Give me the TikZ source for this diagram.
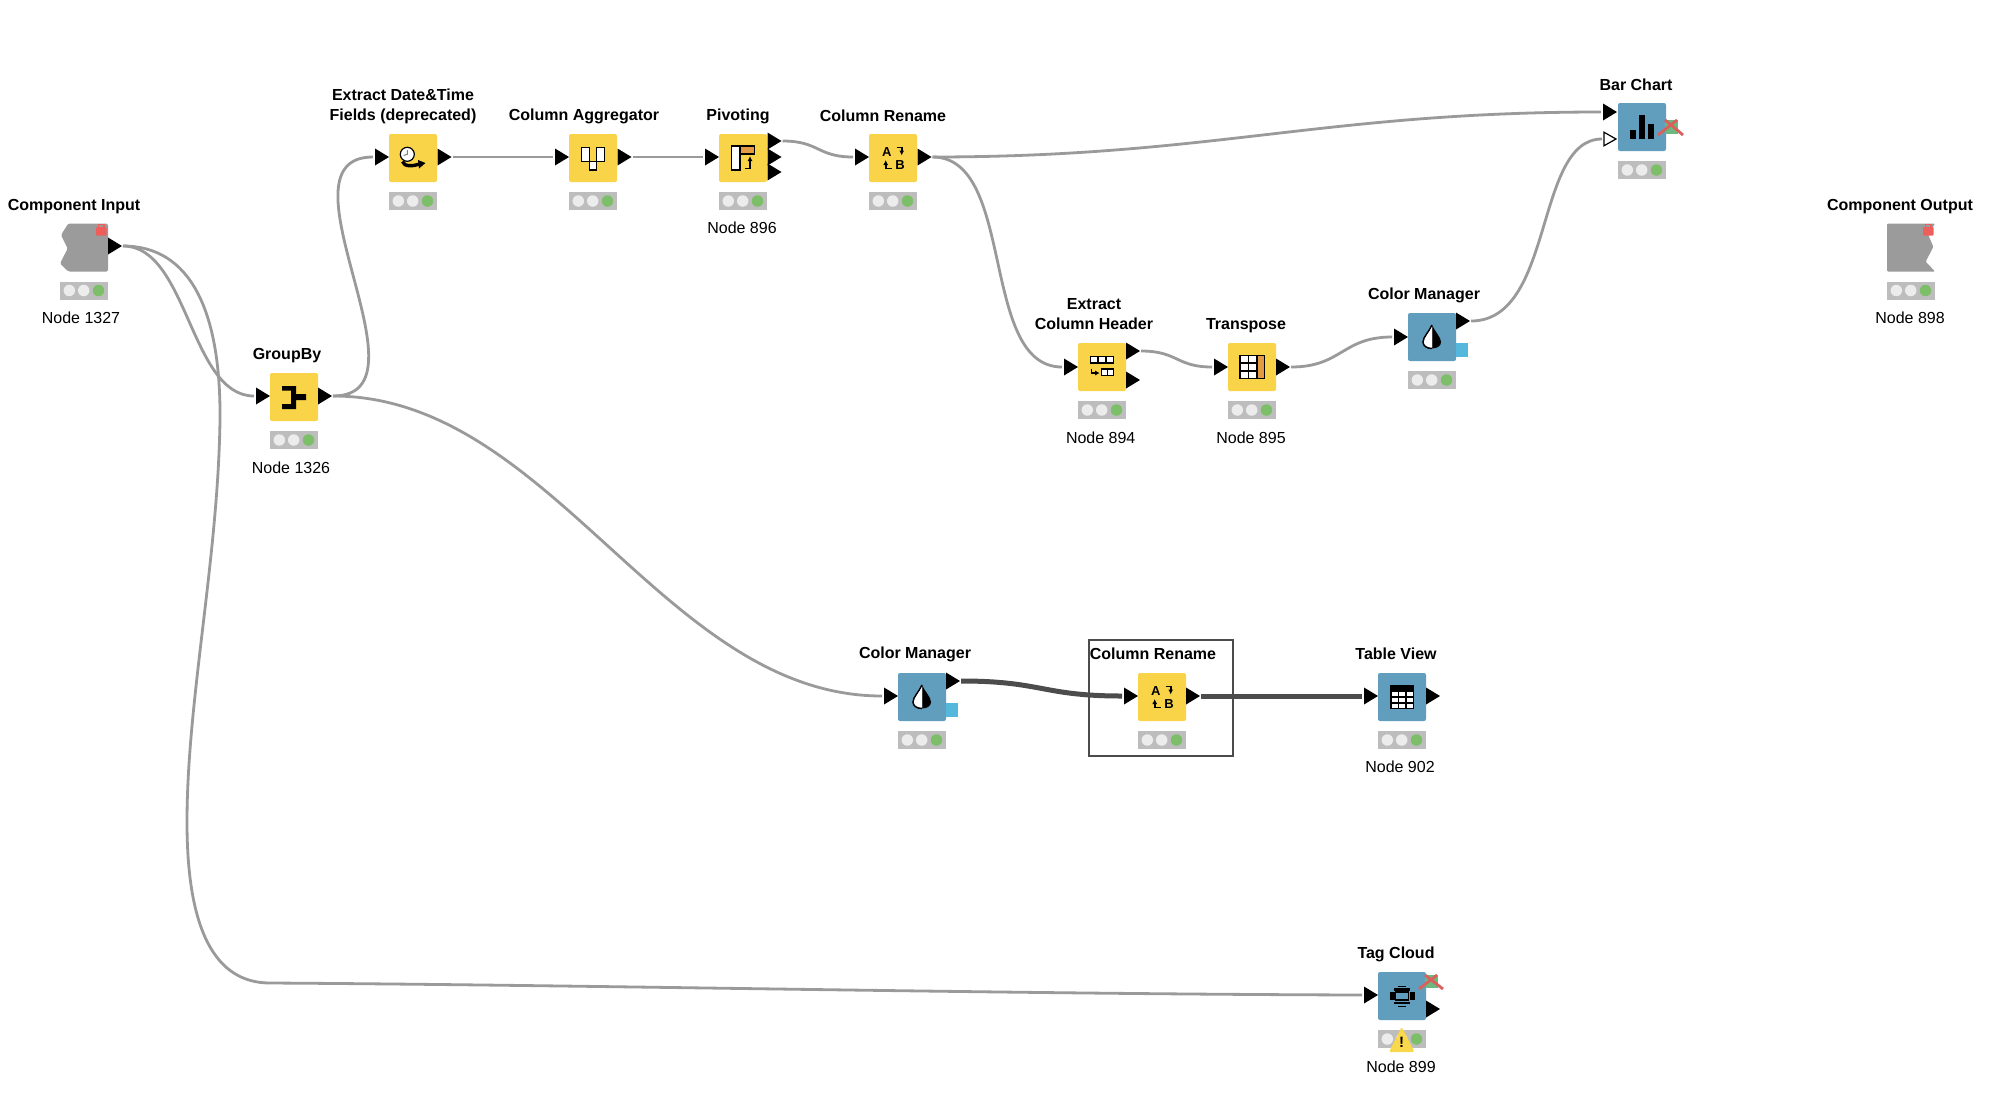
\documentclass[tikz,border=0pt]{standalone}
\usepackage{fontspec}
\setmainfont{Liberation Sans}
\usetikzlibrary{shapes.geometric,arrows.meta}
\definecolor{kyellow}{HTML}{F9D348}
\definecolor{kblue}{HTML}{619EBD}
\definecolor{kgray}{HTML}{9B9B9B}
\definecolor{kwire}{HTML}{9A9A9A}
\definecolor{kdark}{HTML}{4C4C4C}
\definecolor{ktl}{HTML}{BDBDBD}
\definecolor{kdot}{HTML}{ECECEC}
\definecolor{kgreen}{HTML}{7CBF68}
\definecolor{kred}{HTML}{EE5F5B}
\definecolor{kxred}{HTML}{D9605B}
\definecolor{kxgreen}{HTML}{6CB87E}
\definecolor{korange}{HTML}{E39A45}
\definecolor{ksky}{HTML}{55B7DC}
\definecolor{kwarn}{HTML}{F9D84B}
\tikzset{
  kbox/.style={rectangle,rounded corners=2pt,minimum width=48pt,minimum height=48pt,inner sep=0pt,outer sep=0pt,anchor=north west},
  tlight/.style={rectangle,fill=ktl,minimum width=48pt,minimum height=18pt,inner sep=0pt,outer sep=0pt,anchor=north west},
  tdot/.style={circle,minimum size=11.5pt,inner sep=0pt,outer sep=0pt,fill=kdot},
  tdotg/.style={tdot,fill=kgreen},
  porttri/.style={isosceles triangle,isosceles triangle stretches,shape border rotate=0,minimum height=14pt,minimum width=17pt,inner sep=0pt,outer sep=0pt,fill=black,anchor=west},
  portopen/.style={porttri,fill=white,draw=black,line width=1.2pt,minimum height=12pt,minimum width=13.5pt},
  ttl/.style={font=\fontsize{16}{20}\selectfont\bfseries,align=center,inner sep=0pt,text=black},
  sub/.style={font=\fontsize{16}{20}\selectfont,align=center,inner sep=0pt,text=black},
  wire/.style={draw=kwire,line width=2.8pt,shorten <=1pt,shorten >=2pt},
  darkwire/.style={draw=kdark,line width=5pt,shorten <=1pt,shorten >=2pt},
  icon/.style={draw=black,line width=1.5pt,fill=white},
  iconarrow/.style={draw=black,line width=1.6pt,-{Latex[length=5pt,width=5pt]}},
  iconletter/.style={font=\fontsize{13}{13}\selectfont\bfseries,inner sep=0pt,text=black},
}
\newcommand{\knode}[4]{%
  \node[kbox,fill=#4] (#1) at (#2,#3) {};
  \node[tlight] (#1-t) at (#2,#3+58) {};
  \node[tdot] (#1-a) at (#2+9.3,#3+67) {};
  \node[tdot] (#1-b) at (#2+23.7,#3+67) {};
  \node[tdotg] (#1-c) at (#2+38.5,#3+67) {};
}
\newcommand{\pin}[3]{\node[porttri] (#1) at (#2,#3) {};}
\newcommand{\pio}[3]{\node[portopen] (#1) at (#2,#3) {};}
\newcommand{\lockicon}[2]{%
  \fill[kred,rounded corners=1pt] (#1,#2+3) rectangle (#1+10.5,#2+11.5);
  \draw[kred,line width=1.2pt] (#1+2.5,#2+3) -- (#1+2.5,#2+0.8) -- (#1+8,#2+0.8) -- (#1+8,#2+3);
}
\newcommand{\crossout}[6]{%
  \fill[kxgreen] (#1,#2) rectangle (#3,#4);
  \draw[kxred,line width=2.8pt] (#5,#4+1) -- (#3-1,#2);
  \draw[kxred,line width=2.8pt] (#1,#2) -- (#6,#4+1);
}
\newcommand{\renameicon}[1]{%
  \begin{scope}[shift={(#1.center)}]
    \node[iconletter] (#1-A) at (-6.2,-6) {A};
    \node[iconletter] (#1-B) at (7,7) {B};
    \draw[iconarrow] (3.5,-10.7) -- (8.7,-10.7) -- (8.7,-2.5);
    \draw[iconarrow] (-1,10.5) -- (-7.3,10.5) -- (-7.3,2);
  \end{scope}
}
\newcommand{\dropicon}[1]{%
  \begin{scope}[shift={(#1.center)}]
    \fill[black] (0,-12) .. controls (3,-5) and (9,0) .. (9,5) .. controls (9,9) and (5,11.5) .. (0,11.5) -- cycle;
    \draw[icon] (0,-12) .. controls (-3,-5) and (-9,0) .. (-9,5) .. controls (-9,9) and (-5,11.5) .. (0,11.5);
    \fill[white] (0,-10) .. controls (-2.5,-4) and (-7.5,0) .. (-7.5,5) .. controls (-7.5,8) and (-4,10) .. (0,10) -- cycle;
  \end{scope}
}
\begin{document}
\begin{tikzpicture}[x=1pt,y=-1pt]
\useasboundingbox (0,0) rectangle (1999,1103);
\fill[white] (0,0) rectangle (1999,1103);

% selection frame
\node[rectangle,draw=kdark,line width=1.8pt,minimum width=144pt,minimum height=116pt,inner sep=0pt,outer sep=0pt,anchor=north west] (frame) at (1089,640) {};

% nodes
\knode{ci}{60}{223.5}{white}
\knode{gb}{270}{373}{kyellow}
\knode{ed}{389}{134}{kyellow}
\knode{ca}{569}{134}{kyellow}
\knode{pv}{719}{134}{kyellow}
\knode{cr}{869}{134}{kyellow}
\knode{ech}{1078}{343}{kyellow}
\knode{tr}{1228}{343}{kyellow}
\knode{cm}{1408}{313}{kblue}
\knode{bc}{1618}{103}{kblue}
\knode{co}{1887}{223.5}{white}
\knode{cmb}{898}{673}{kblue}
\knode{crb}{1138}{673}{kyellow}
\knode{tv}{1378}{673}{kblue}
\knode{tc}{1378}{972}{kblue}

% component shapes
\fill[kgray,rounded corners=1.5pt] (68.3,223.5) -- (108,223.5) -- (108,271.5) -- (68.3,271.5) -- (60,263.5) -- (67.7,248.5) -- (61,235) -- cycle;
\lockicon{96}{224}
\fill[kgray,rounded corners=1pt] (1887,223.5) -- (1935,223.5) -- (1928.3,235) -- (1933.3,246.7) -- (1925.7,261.7) -- (1935,271.5) -- (1887,271.5) -- cycle;
\lockicon{1923}{224}

% ports
\pin{ci-o}{108}{246}
\pin{gb-i}{256}{396}
\pin{gb-o}{318}{396}
\pin{ed-i}{375}{157}
\pin{ed-o}{437.5}{157}
\pin{ca-i}{555}{157}
\pin{ca-o}{617.5}{157}
\pin{pv-i}{705}{157}
\pin{pv-oa}{767.5}{141}
\pin{pv-ob}{767.5}{157}
\pin{pv-oc}{767.5}{172}
\pin{cr-i}{855}{157}
\pin{cr-o}{917.5}{157}
\pin{ech-i}{1064}{367}
\pin{ech-oa}{1126}{351}
\pin{ech-ob}{1126}{380}
\pin{tr-i}{1214}{367}
\pin{tr-o}{1276}{367}
\pin{cm-i}{1394}{337}
\pin{cm-o}{1456}{321}
\pin{bc-ia}{1603}{112}
\pio{bc-ib}{1604}{139}
\pin{cmb-i}{884}{696}
\pin{cmb-o}{946}{681}
\pin{crb-i}{1124}{696}
\pin{crb-o}{1186}{696}
\pin{tv-i}{1364}{696}
\pin{tv-o}{1426}{696}
\pin{tc-i}{1364}{995}
\pin{tc-o}{1426}{1009}

% flow variable squares
\node[rectangle,fill=ksky,minimum width=12pt,minimum height=14pt,inner sep=0pt,anchor=north west] (cm-v) at (1456,343) {};
\node[rectangle,fill=ksky,minimum width=12pt,minimum height=14pt,inner sep=0pt,anchor=north west] (cmb-v) at (946,703) {};

% connectors
\draw[wire] (ci-o.east) .. controls +(66,0) and +(-66,0) .. (gb-i.west);
\draw[wire] (ci-o.east) .. controls (190,246) and (221,310) .. (220,420)
   .. controls (218,560) and (187,700) .. (187,822)
   .. controls (187,930) and (215,983) .. (270,983)
   .. controls (600,985) and (1000,994) .. (tc-i.west);
\draw[wire] (gb-o.east) .. controls +(105,0) and +(-105,0) .. (ed-i.west);
\draw[wire] (gb-o.east) .. controls +(220,0) and +(-220,0) .. (cmb-i.west);
\draw[wire] (ed-o.east) -- (ca-i.west);
\draw[wire] (ca-o.east) -- (pv-i.west);
\draw[wire] (pv-oa.east) .. controls +(38,0) and +(-38,0) .. (cr-i.west);
\draw[wire] (cr-o.east) .. controls +(280,0) and +(-280,0) .. (bc-ia.west);
\draw[wire] (cr-o.east) .. controls +(85,0) and +(-85,0) .. (ech-i.west);
\draw[wire] (ech-oa.east) .. controls +(38,0) and +(-38,0) .. (tr-i.west);
\draw[wire] (tr-o.east) .. controls +(52,0) and +(-52,0) .. (cm-i.west);
\draw[wire] (cm-o.east) .. controls +(85,0) and +(-70,0) .. (bc-ib.west);
\draw[darkwire] (cmb-o.east) .. controls +(82,0) and +(-82,0) .. (crb-i.west);
\draw[darkwire] (crb-o.east) -- (tv-i.west);

% icons
\begin{scope}[shift={(gb.center)}]
  \fill[black] (-12,-11) -- (2,-11) -- (2,-3) -- (12,-3) -- (12,3) -- (2,3) -- (2,12) -- (-12,12) -- (-12,7) -- (-3,7) -- (-3,-6.5) -- (-12,-6.5) -- cycle;
\end{scope}
\begin{scope}[shift={(ed.center)}]
  \draw[line width=3.4pt,draw=black] (-10.5,3.5) .. controls (-9,9) and (0,8.5) .. (8,5.5);
  \fill[black] (5,2) -- (12.5,5) -- (6,10.5) -- cycle;
  \draw[line width=1.2pt,draw=black,fill=white] (-5.7,-3.7) circle (7);
  \draw[line width=1pt,draw=gray] (-5.7,-8) -- (-5.7,-3.7) -- (-9.5,-2.5);
\end{scope}
\begin{scope}[shift={(ca.center)}]
  \draw[icon] (-11.4,-10.7) rectangle (-3.5,3.3);
  \draw[icon] (3.7,-10.7) rectangle (11.4,3.3);
  \draw[icon] (-3.5,3.3) rectangle (3.7,12);
\end{scope}
\begin{scope}[shift={(pv.center)}]
  \draw[icon] (-11.3,-12) rectangle (-3,12);
  \draw[icon,fill=korange] (-3,-12) rectangle (11.3,-4);
  \draw[iconarrow] (2,10.5) -- (7,10.5) -- (7,-2);
\end{scope}
\renameicon{cr}
\renameicon{crb}
\begin{scope}[shift={(ech.center)}]
  \draw[icon] (-11.3,-10.7) rectangle (-3.8,-4);
  \draw[icon] (-3.8,-10.7) rectangle (3.8,-4);
  \draw[icon] (3.8,-10.7) rectangle (11.3,-4);
  \draw[icon] (-0.3,2) rectangle (5.5,8.7);
  \draw[icon] (5.5,2) rectangle (11.3,8.7);
  \draw[draw=black,line width=1.6pt,-{Latex[length=4.5pt,width=5pt]}] (-10.5,1.5) -- (-10.5,6) -- (-2.3,6);
\end{scope}
\begin{scope}[shift={(tr.center)}]
  \foreach \cx in {-12,-3.5}
    \foreach \cy in {-11.3,-3.8,3.8}
      \draw[icon] (\cx,\cy) rectangle +(8.5,7.6);
  \draw[icon,fill=korange] (5,-11.3) rectangle (12.3,11.4);
\end{scope}
\dropicon{cm}
\dropicon{cmb}
\begin{scope}[shift={(bc.center)}]
  \fill[black] (-12.3,3) rectangle (-5.7,12.3);
  \fill[black] (-3.3,-11.7) rectangle (3.3,12.3);
  \fill[black] (5.7,-2.7) rectangle (12.3,12.3);
\end{scope}
\begin{scope}[shift={(tv.center)}]
  \fill[black] (-12,-11.7) rectangle (12,11.7);
  \foreach \cx in {-10.5,-3,4.5}
    \foreach \cy in {-5,1,7}
      \fill[white] (\cx,\cy) rectangle +(6,4);
\end{scope}
\begin{scope}[shift={(tc.center)}]
  \fill[black] (-4,-10.5) rectangle (4,-9);
  \fill[black] (-8,-8) rectangle (8,-5.5);
  \fill[black] (-12.5,-4) rectangle (-7.5,4);
  \fill[black] (7.5,-4) rectangle (12.5,4);
  \draw[draw=black,line width=1.6pt] (-6.5,-4) rectangle (6.5,4);
  \fill[black] (-8,5.5) rectangle (8,8);
  \fill[black] (-4,9.5) rectangle (4,11);
\end{scope}

% configuration crosses
\crossout{1665}{120}{1678}{134}{1658}{1683}
\crossout{1425}{975}{1438}{988}{1419}{1443}

% warning sign
\fill[kwarn,rounded corners=2pt] (1401.7,1027) -- (1389,1052) -- (1414.5,1052) -- cycle;
\node[font=\fontsize{15}{15}\selectfont\bfseries,inner sep=0pt,text=black] (tc-w) at (1401.7,1042) {!};

% titles
\node[ttl] (t-ci) at (74,206.5) {Component Input};
\node[ttl] (t-gb) at (287,356) {GroupBy};
\node[ttl] (t-ed) at (403,106) {Extract Date\&Time\\Fields (deprecated)};
\node[ttl] (t-ca) at (584,116) {Column Aggregator};
\node[ttl] (t-pv) at (738,116) {Pivoting};
\node[ttl] (t-cr) at (883,116) {Column Rename};
\node[ttl] (t-ech) at (1094,314) {Extract\\Column Header};
\node[ttl] (t-tr) at (1246,326) {Transpose};
\node[ttl] (t-cm) at (1424,295.5) {Color Manager};
\node[ttl] (t-bc) at (1636,85) {Bar Chart};
\node[ttl] (t-co) at (1900,206.5) {Component Output};
\node[ttl] (t-cmb) at (915,654) {Color Manager};
\node[ttl] (t-crb) at (1153,654) {Column Rename};
\node[ttl] (t-tv) at (1396,654) {Table View};
\node[ttl] (t-tc) at (1396,954) {Tag Cloud};

% sublabels
\node[sub] (s-ci) at (81,318) {Node 1327};
\node[sub] (s-gb) at (291,468) {Node 1326};
\node[sub] (s-pv) at (742,228) {Node 896};
\node[sub] (s-ech) at (1100.7,438) {Node 894};
\node[sub] (s-tr) at (1251,438) {Node 895};
\node[sub] (s-co) at (1910,318) {Node 898};
\node[sub] (s-tv) at (1400,767) {Node 902};
\node[sub] (s-tc) at (1401,1067) {Node 899};
\end{tikzpicture}
\end{document}
